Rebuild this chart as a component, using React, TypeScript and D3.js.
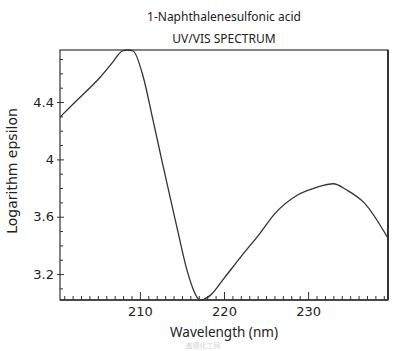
import React, { useEffect, useRef } from "react";
import * as d3 from "d3";

// spectrum
const wavelengths = [
  200.5, 202.3, 205.3, 206.8, 207.9, 208.6, 209.2, 210.4, 211.5, 212.6, 213.5,
  214.4, 215.6, 216.3, 216.9, 217.2, 217.8, 218.4, 220, 222, 224.3, 226.1,
  228.7, 231.1, 233.0, 234.6, 236.7, 239.5,
];
const logEpsilon = [
  4.295, 4.4, 4.575, 4.68, 4.756, 4.763, 4.756, 4.575, 4.29, 3.995, 3.76,
  3.527, 3.227, 3.1, 3.03, 3.018, 3.03, 3.053, 3.17, 3.32, 3.486, 3.625,
  3.75, 3.807, 3.83, 3.786, 3.695, 3.45,
];
const xMajorTicks = [210, 220, 230];
const yMajorTicks = [3.2, 3.6, 4.0, 4.4];
const xDomain = [200.5, 239.5];
const yDomain = [3.019, 4.763];

const titleLines = ["1-Naphthalenesulfonic acid", "UV/VIS SPECTRUM"];

const App: React.FC = () => {
  const svgRef = useRef<SVGSVGElement>(null);

  useEffect(() => {
    if (!svgRef.current) return;
    const width = 400;
    const height = 351;
    const margin = { top: 50, right: 12, bottom: 51, left: 60 };
    const innerWidth = width - margin.left - margin.right;
    const innerHeight = height - margin.top - margin.bottom;

    const root = d3.select(svgRef.current);
    root.selectAll("*").remove();
    root.attr("width", width).attr("height", height);

    const font = "'DejaVu Sans', Verdana, sans-serif";
    const labelFont = "'Noto Sans', sans-serif";

    // titles
    root
      .selectAll(".title")
      .data(titleLines)
      .enter()
      .append("text")
      .attr("class", "title")
      .attr("x", margin.left + innerWidth / 2)
      .attr("y", (_, i) => 21 + i * 22)
      .attr("text-anchor", "middle")
      .style("font-family", labelFont)
      .style("font-size", "12px")
      .attr("fill", "#222")
      .text((d) => d);

    const g = root
      .append("g")
      .attr("transform", `translate(${margin.left},${margin.top})`);

    const x = d3.scaleLinear().domain(xDomain).range([0, innerWidth]);
    const y = d3.scaleLinear().domain(yDomain).range([innerHeight, 0]);

    const xMinor = d3.range(201, 240).filter((v) => !xMajorTicks.includes(v));
    const yMinor = d3
      .range(31, 48)
      .map((v) => v / 10)
      .filter((v) => !yMajorTicks.some((t) => Math.abs(t - v) < 1e-6));

    // x axis (ticks point inward)
    g.append("g")
      .attr("transform", `translate(0,${innerHeight})`)
      .call(
        d3
          .axisBottom(x)
          .tickValues(xMinor)
          .tickSize(-4)
          .tickFormat(() => "")
      )
      .call((s) => s.select(".domain").remove());
    const xMaj = g.append("g").attr("transform", `translate(0,${innerHeight})`);
    xMaj
      .call(
        d3
          .axisBottom(x)
          .tickValues(xMajorTicks)
          .tickSize(-8)
          .tickPadding(7)
          .tickFormat(d3.format("d"))
      )
      .call((s) => s.select(".domain").remove());
    xMaj
      .selectAll("text")
      .style("font-family", font)
      .style("font-size", "13px")
      .attr("fill", "#222");

    // y axis
    g.append("g")
      .call(
        d3
          .axisLeft(y)
          .tickValues(yMinor)
          .tickSize(-3)
          .tickFormat(() => "")
      )
      .call((s) => s.select(".domain").remove());
    const yMaj = g.append("g");
    yMaj
      .call(
        d3
          .axisLeft(y)
          .tickValues(yMajorTicks)
          .tickSize(3)
          .tickPadding(3)
          .tickFormat((d) => d3.format("~g")(d as number))
      )
      .call((s) => s.select(".domain").remove());
    yMaj.selectAll("line").attr("x2", 4).attr("x1", -3);
    yMaj
      .selectAll("text")
      .style("font-family", font)
      .style("font-size", "13px")
      .attr("fill", "#222");

    g.selectAll(".tick line").attr("stroke", "#333");

    // frame
    g.append("rect")
      .attr("x", 0)
      .attr("y", 0)
      .attr("width", innerWidth)
      .attr("height", innerHeight)
      .attr("fill", "none")
      .attr("stroke", "#333")
      .attr("stroke-width", 1.2);
    g.append("line")
      .attr("x1", innerWidth)
      .attr("x2", innerWidth)
      .attr("y1", 0)
      .attr("y2", innerHeight)
      .attr("stroke", "#333")
      .attr("stroke-width", 2);
    g.append("line")
      .attr("x1", 0)
      .attr("x2", innerWidth)
      .attr("y1", innerHeight)
      .attr("y2", innerHeight)
      .attr("stroke", "#333")
      .attr("stroke-width", 1.6);

    // spectrum line
    const points = wavelengths.map((w, i) => [w, logEpsilon[i]] as [number, number]);
    const line = d3
      .line<[number, number]>()
      .x((d) => x(d[0]))
      .y((d) => y(d[1]))
      .curve(d3.curveMonotoneX);
    g.append("path")
      .datum(points)
      .attr("d", line)
      .attr("fill", "none")
      .attr("stroke", "#333")
      .attr("stroke-width", 1.3);

    // axis labels
    root
      .append("text")
      .attr("x", 224)
      .attr("y", 337)
      .attr("text-anchor", "middle")
      .style("font-family", labelFont)
      .style("font-size", "13.5px")
      .attr("fill", "#222")
      .text("Wavelength (nm)");

    root
      .append("text")
      .attr("transform", "rotate(-90)")
      .attr("x", -171)
      .attr("y", 17)
      .attr("text-anchor", "middle")
      .style("font-family", font)
      .style("font-size", "14px")
      .attr("fill", "#222")
      .text("Logarithm epsilon");

    // faint watermark
    root
      .append("text")
      .attr("x", 203)
      .attr("y", 348)
      .attr("text-anchor", "middle")
      .style("font-family", "'Noto Sans CJK SC', sans-serif")
      .style("font-size", "7px")
      .attr("fill", "#d4d4d4")
      .text("盖德化工网");
  }, []);

  return (
    <svg
      ref={svgRef}
      style={{ position: "absolute", left: 0, top: 0, background: "#fff" }}
    ></svg>
  );
};

export default App;
